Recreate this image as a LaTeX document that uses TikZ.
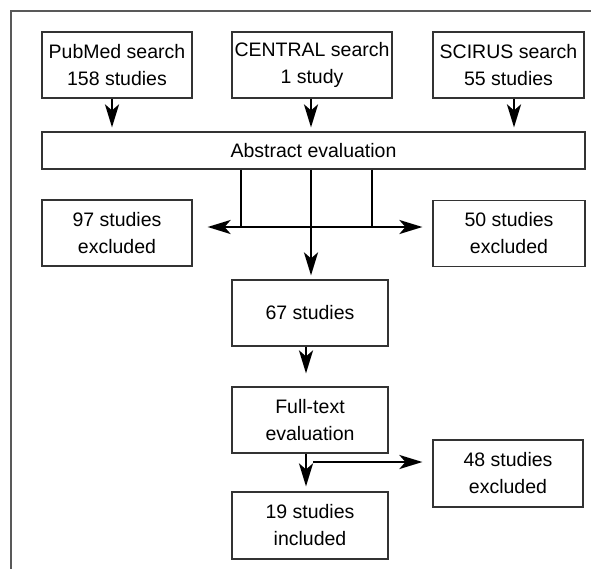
\documentclass[tikz,border=0pt]{standalone}
\usepackage{fontspec}
\setmainfont{Liberation Sans}
\usetikzlibrary{arrows.meta}
\begin{document}
\begin{tikzpicture}[x=1pt,y=-1pt,
  box/.style={draw=black!80, line width=1.2pt, inner sep=0pt, align=center,
    text=black, font=\fontsize{19.5}{27}\selectfont},
  tip/.tip={Stealth[length=23pt,width=14pt,inset=6pt]},
  arr/.style={line width=2.6pt, -tip},
  bar/.style={line width=2.6pt}]
\useasboundingbox (0,0) rectangle (591,568);
\draw[black!65, line width=2pt] (11,580) -- (11,11) -- (600,11);
% boxes
\node[box, minimum width=150pt, minimum height=66pt] (pub) at (117,65) {PubMed search\\158 studies};
\node[box, minimum width=160pt, minimum height=66pt] (cen) at (312,65) {CENTRAL search\\1 study};
\node[box, minimum width=151pt, minimum height=66pt] (sci) at (508.5,65) {SCIRUS search\\55 studies};
\node[box, minimum width=543pt, minimum height=37pt] (abs) at (313.5,150.5) {Abstract evaluation};
\node[box, minimum width=150pt, minimum height=66pt] (ex97) at (117,233) {97 studies\\excluded};
\node[box, minimum width=152pt, minimum height=66pt] (ex50) at (509,233.5) {50 studies\\excluded};
\node[box, minimum width=156pt, minimum height=66pt] (s67) at (310,313) {67 studies};
\node[box, minimum width=156pt, minimum height=66pt] (full) at (310,420) {Full-text\\evaluation};
\node[box, minimum width=150pt, minimum height=67pt] (ex48) at (508,473.5) {48 studies\\excluded};
\node[box, minimum width=156pt, minimum height=67pt] (s19) at (310,525.5) {19 studies\\included};
% top arrows
\draw[arr, shorten >=4pt] ([xshift=-5pt]pub.south) -- ([xshift=-5pt]pub.south |- abs.north);
\draw[arr, shorten >=4pt] ([xshift=-1pt]cen.south) -- ([xshift=-1pt]cen.south |- abs.north);
\draw[arr, shorten >=4pt] ([xshift=5.5pt]sci.south) -- ([xshift=5.5pt]sci.south |- abs.north);
% abstract split
\coordinate (v1) at (241,227);
\coordinate (j) at (311,227);
\coordinate (v3) at (372,227);
\draw[bar] (abs.south -| v1) -- (v1);
\draw[bar] (abs.south -| j) -- (j);
\draw[bar] (abs.south -| v3) -- (v3);
\draw[arr, tip-tip, shorten <=15pt, shorten >=10pt]
  (ex97.east |- j) -- (ex50.west |- j);
\draw[arr, shorten >=4pt] (j) -- (j |- s67.north);
% lower
\draw[arr, shorten >=13pt] ([xshift=-4pt]s67.south) -- ([xshift=-4pt]s67.south |- full.north);
\draw[arr, shorten >=5pt] ([xshift=-4pt]full.south) -- ([xshift=-4pt]full.south |- s19.north);
\coordinate (k) at (313,462);
\draw[arr, shorten >=10pt] (k) -- (k -| ex48.west);
\end{tikzpicture}
\end{document}
